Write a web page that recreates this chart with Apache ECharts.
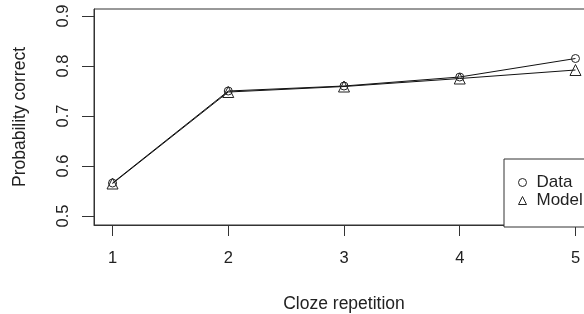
<!DOCTYPE html>
<html>
<head>
<meta charset="utf-8">
<script src="https://cdn.jsdelivr.net/npm/echarts@6/dist/echarts.min.js"></script>
<style>
  html, body { margin: 0; padding: 0; background: #fff; }
  #chart { width: 584px; height: 314px; }
</style>
</head>
<body>
<div id="chart"></div>
<script>
// values
const repetitions = [1, 2, 3, 4, 5]
const dataValues = [0.566, 0.750, 0.760, 0.778, 0.815]
const modelValues = [0.565, 0.748, 0.759, 0.775, 0.792]
const xTicks = [1, 2, 3, 4, 5]
const yTicks = [0.5, 0.6, 0.7, 0.8, 0.9]

const ink = '#222'
const font = 'Liberation Sans, Arial, sans-serif'

function pairs(vals) {
    return repetitions.map((r, i) => [r, vals[i]])
}

const hollow = { color: 'rgba(255,255,255,0)', borderColor: ink, borderWidth: 1 }

const myChart = echarts.init(document.getElementById('chart'), null, { renderer: 'canvas' })

const option = {
    backgroundColor: '#fff',
    animation: false,
    textStyle: { fontFamily: font, color: ink },
    grid: {
        left: 94,
        top: 9,
        width: 500,
        height: 216,
        outerBoundsMode: 'none',
        containLabel: false,
        show: true,
        borderColor: '#333',
        borderWidth: 1,
        backgroundColor: 'transparent'
    },
    legend: {
        orient: 'vertical',
        left: 504,
        top: 159,
        padding: [15, 80, 18, 14],
        itemGap: 1,
        itemWidth: 8,
        itemHeight: 8,
        borderColor: '#333',
        borderWidth: 1,
        backgroundColor: '#fff',
        textStyle: { fontFamily: font, fontSize: 17, color: ink, padding: [0, 0, 0, 5] },
        data: [
            { name: 'Data', icon: 'circle', itemStyle: hollow },
            { name: 'Model', icon: 'triangle', itemStyle: hollow }
        ]
    },
    xAxis: {
        type: 'value',
        min: 0.84,
        max: 5.16,
        name: 'Cloze repetition',
        nameLocation: 'middle',
        nameGap: 70,
        nameTextStyle: { fontSize: 17.5, color: ink },
        splitLine: { show: false },
        axisLine: { show: true, onZero: false, lineStyle: { color: '#333' } },
        axisTick: {
            show: true,
            length: 11,
            customValues: xTicks,
            lineStyle: { color: '#333' }
        },
        axisLabel: {
            fontSize: 16.5,
            color: ink,
            margin: 25,
            customValues: xTicks,
            formatter: v => String(v)
        }
    },
    yAxis: {
        type: 'value',
        min: 0.482,
        max: 0.914,
        name: 'Probability correct',
        nameLocation: 'middle',
        nameGap: 65,
        nameTextStyle: { fontSize: 17.5, color: ink },
        splitLine: { show: false },
        axisLine: { show: true, onZero: false, lineStyle: { color: '#333' } },
        axisTick: {
            show: true,
            length: 12,
            customValues: yTicks,
            lineStyle: { color: '#333' }
        },
        axisLabel: {
            fontSize: 16.5,
            color: ink,
            rotate: 90,
            margin: 22,
            customValues: yTicks,
            formatter: v => v.toFixed(1)
        }
    },
    series: [
        {
            name: 'Data',
            type: 'line',
            data: pairs(dataValues),
            symbol: 'circle',
            symbolSize: 8,
            lineStyle: { color: '#111', width: 1 },
            itemStyle: hollow
        },
        {
            name: 'Model',
            type: 'line',
            data: pairs(modelValues),
            symbol: 'triangle',
            symbolSize: 11,
            lineStyle: { color: '#111', width: 1 },
            itemStyle: hollow
        }
    ]
}

myChart.setOption(option)
</script>
</body>
</html>
